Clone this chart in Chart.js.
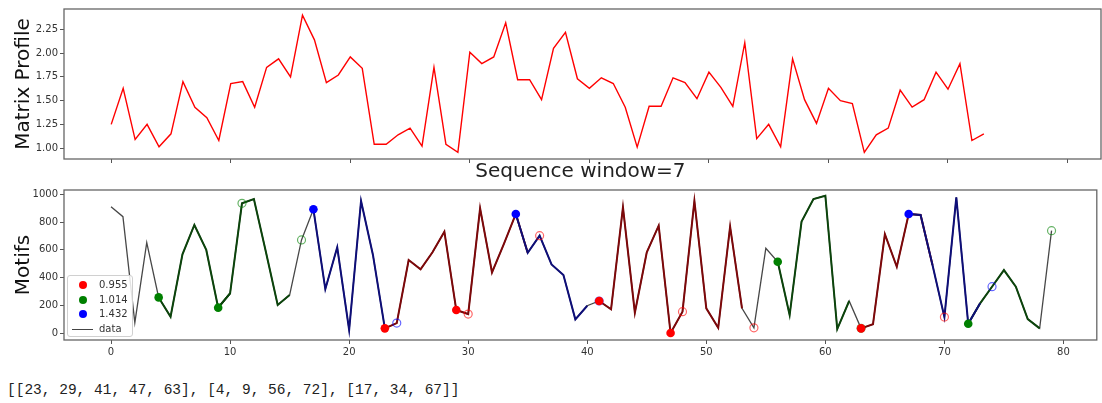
<!DOCTYPE html>
<html>
<head>
<meta charset="utf-8">
<script src="https://cdn.jsdelivr.net/npm/chart.js@4.4.1/dist/chart.umd.min.js"></script>
<style>
  body { margin: 0; background: #fff; width: 1102px; height: 403px; overflow: hidden; position: relative; font-family: "DejaVu Sans", sans-serif; }
  #mp { position: absolute; left: 0; top: 0; }
  #motifs { position: absolute; left: 0; top: 160px; }
  .legend { position: absolute; left: 67px; top: 275px; width: 64px; height: 60px; border: 1px solid #d0d0d0; border-radius: 3px; background: rgba(255,255,255,0.85); font-size: 10px; color: #333; }
  .legend div { position: absolute; left: 0; height: 14px; line-height: 14px; width: 64px; }
  .legend .dot { position: absolute; left: 11px; top: 3px; width: 8px; height: 8px; border-radius: 50%; }
  .legend .ln { position: absolute; left: 4px; top: 7px; width: 21px; height: 0; border-top: 1.5px solid #444; }
  .legend span.t { position: absolute; left: 31px; }
  .out { position: absolute; left: 7px; top: 382px; font-family: "Liberation Mono", monospace; font-size: 14.5px; color: #222; white-space: pre; }
</style>
</head>
<body>
<canvas id="mp" width="1102" height="170"></canvas>
<canvas id="motifs" width="1102" height="200"></canvas>
<div class="legend" id="legend"></div>
<div class="out" id="out"></div>
<script>
// matrix profile (window=7)
const mpValues = [1.25, 1.63, 1.09, 1.25, 1.014, 1.15, 1.70, 1.43, 1.32, 1.08,
  1.68, 1.70, 1.43, 1.85, 1.94, 1.75, 2.40, 2.14, 1.69, 1.77,
  1.96, 1.84, 1.04, 1.04, 1.14, 1.21, 1.02, 1.85, 1.04, 0.955,
  2.01, 1.89, 1.96, 2.32, 1.72, 1.72, 1.51, 2.05, 2.22, 1.73,
  1.63, 1.74, 1.68, 1.43, 1.01, 1.44, 1.44, 1.74, 1.69, 1.52,
  1.80, 1.64, 1.44, 2.11, 1.10, 1.25, 1.014, 1.94, 1.51, 1.26,
  1.63, 1.50, 1.47, 0.955, 1.14, 1.21, 1.61, 1.432, 1.51, 1.80,
  1.62, 1.89, 1.08, 1.15];

// raw series, bottom panel
const motifValues = [911, 839, 75, 651, 257, 118, 567, 779, 599, 183,
  286, 935, 966, 588, 202, 274, 671, 892, 317, 618,
  22, 952, 563, 34, 72, 526, 459, 582, 731, 166,
  137, 899, 437, 642, 858, 579, 702, 495, 418, 99,
  197, 231, 171, 906, 147, 582, 774, 0, 154, 952,
  178, 38, 767, 178, 38, 611, 514, 130, 803, 966,
  990, 29, 231, 34, 63, 712, 478, 858, 851, 490,
  115, 978, 67, 214, 334, 454, 334, 101, 34, 738];

const seqWindow = 7;
const motifGroups = [[23, 29, 41, 47, 63], [4, 9, 56, 72], [17, 34, 67]];
const groupLabels = ['0.955', '1.014', '1.432'];

const xTicks = [0, 10, 20, 30, 40, 50, 60, 70, 80];
const mpTicks = [1.00, 1.25, 1.50, 1.75, 2.00, 2.25];
const motifTicks = [0, 200, 400, 600, 800, 1000];

const groupRgb = ['255,0,0', '0,128,0', '0,0,255'];
const segColor = ['rgb(125,8,10)', 'rgb(12,68,12)', 'rgb(14,14,120)'];

const framePlugin = {
  id: 'frame',
  afterDatasetsDraw(chart) {
    const { ctx, chartArea: a } = chart;
    ctx.save();
    ctx.strokeStyle = '#666';
    ctx.lineWidth = 1.3;
    ctx.strokeRect(a.left, a.top, a.right - a.left, a.bottom - a.top);
    ctx.restore();
  }
};

const tickFont = { family: 'DejaVu Sans', size: 10 };
const gridOpts = { drawOnChartArea: false, tickLength: 4, color: '#555' };

function xAxis(showLabels, h) {
  return {
    type: 'linear', min: -3.95, max: 82.8,
    afterBuildTicks: s => { s.ticks = xTicks.map(v => ({ value: v })); },
    ticks: { display: showLabels, font: tickFont, color: '#333', padding: 2, maxRotation: 0 },
    grid: gridOpts,
    border: { display: false },
    afterFit: s => { s.height = h; }
  };
}

function yAxis(min, max, ticks, fmt, label) {
  return {
    min: min, max: max,
    afterBuildTicks: s => { s.ticks = ticks.map(v => ({ value: v })); },
    ticks: { font: tickFont, color: '#333', padding: 2, callback: fmt },
    grid: gridOpts,
    border: { display: false },
    title: { display: true, text: label, color: '#111', font: { family: 'DejaVu Sans', size: 20 }, padding: { top: 12, bottom: 0 } },
    afterFit: s => { s.width = 64; }
  };
}

const pts = (arr, idx) => idx.map(i => ({ x: i, y: arr[i] }));

// top: matrix profile
new Chart(document.getElementById('mp'), {
  type: 'line',
  data: {
    datasets: [{
      data: mpValues.map((v, i) => ({ x: i, y: v })),
      borderColor: '#ff0000', borderWidth: 1.4, pointRadius: 0, tension: 0
    }]
  },
  options: {
    responsive: false, animation: false, events: [],
    layout: { padding: { top: 9, right: 1, left: 0, bottom: 0 } },
    scales: {
      x: xAxis(false, 11),
      y: yAxis(0.885, 2.465, mpTicks, v => Number(v).toFixed(2), 'Matrix Profile')
    },
    plugins: { legend: { display: false }, tooltip: { enabled: false } }
  },
  plugins: [framePlugin]
});

// bottom: data + motif segments + markers
const datasets = [{
  label: 'data',
  data: motifValues.map((v, i) => ({ x: i, y: v })),
  borderColor: 'rgba(0,0,0,0.72)', borderWidth: 1.3, pointRadius: 0, order: 10
}];

motifGroups.forEach((starts, g) => {
  const rgb = groupRgb[g];
  starts.forEach(s => {
    const idx = [];
    for (let k = s; k < s + seqWindow && k < motifValues.length; k++) idx.push(k);
    datasets.push({
      data: pts(motifValues, idx),
      borderColor: segColor[g], borderWidth: 2, pointRadius: 0, order: 3 - g
    });
  });
  // start of each motif
  datasets.push({
    data: pts(motifValues, starts),
    showLine: false, pointRadius: 4.3, pointBorderWidth: 0,
    pointBackgroundColor: `rgb(${rgb})`, pointBorderColor: `rgb(${rgb})`, order: 0
  });
  // end of window
  datasets.push({
    data: pts(motifValues, starts.map(s => s + seqWindow).filter(i => i < motifValues.length)),
    showLine: false, pointRadius: 4, pointBorderWidth: 1.2,
    pointBackgroundColor: 'rgba(0,0,0,0)', pointBorderColor: `rgba(${rgb},0.6)`, order: 0
  });
});

new Chart(document.getElementById('motifs'), {
  type: 'line',
  data: { datasets },
  options: {
    responsive: false, animation: false, events: [],
    layout: { padding: { top: 0, right: 1, left: 0, bottom: 0 } },
    scales: {
      x: xAxis(true, 20),
      y: yAxis(-50, 1031, motifTicks, v => String(v), 'Motifs')
    },
    plugins: {
      legend: { display: false },
      tooltip: { enabled: false },
      title: {
        display: true, text: 'Sequence window=' + seqWindow, fullSize: false,
        color: '#222', font: { family: 'DejaVu Sans', size: 20, weight: 'normal' },
        padding: { top: 0, bottom: 6 }
      }
    }
  },
  plugins: [framePlugin]
});

// legend box (lower left of motif panel)
const leg = document.getElementById('legend');
groupLabels.forEach((lab, g) => {
  const row = document.createElement('div');
  row.style.top = (2 + g * 14.5) + 'px';
  row.innerHTML = `<span class="dot" style="background:rgb(${groupRgb[g]})"></span><span class="t">${lab}</span>`;
  leg.appendChild(row);
});
const dataRow = document.createElement('div');
dataRow.style.top = (2 + 3 * 14.5) + 'px';
dataRow.innerHTML = '<span class="ln"></span><span class="t">data</span>';
leg.appendChild(dataRow);

document.getElementById('out').textContent = JSON.stringify(motifGroups).replace(/,/g, ', ');
</script>
</body>
</html>
